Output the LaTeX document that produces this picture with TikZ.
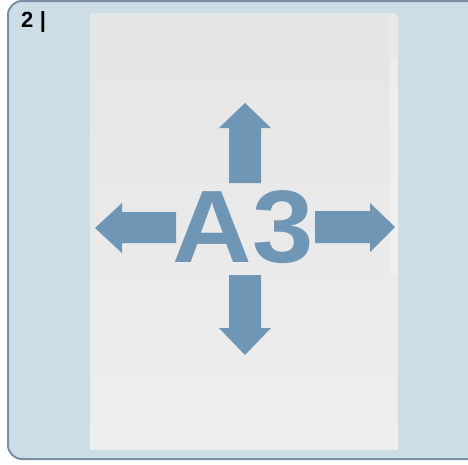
\documentclass[tikz,border=0pt]{standalone}
\usepackage{fontspec}
\setmainfont{Liberation Sans}
\definecolor{panelfill}{HTML}{CCDDE6}
\definecolor{panelline}{HTML}{7890A3}
\definecolor{arrowblue}{HTML}{7096B5}
\definecolor{sheettop}{HTML}{E5E5E5}
\definecolor{sheetbot}{HTML}{EEEEEE}
\tikzset{
  panelbox/.style={draw=panelline, line width=2pt, fill=panelfill, rounded corners=14pt},
  bigarrow/.style={fill=arrowblue, draw=none},
}
\begin{document}
\begin{tikzpicture}[x=1pt,y=-1pt]
\useasboundingbox (0,0) rectangle (468,464);
\fill[white] (0,0) rectangle (468,464);
\begin{scope}
\clip (0,0) rectangle (468,464);
\draw[panelbox] (8,1) rectangle (490,459);
\end{scope}
% label
\node[anchor=base west, font=\bfseries\fontsize{22}{22}\selectfont, inner sep=0pt] (lbl) at (21,27) {2\hspace{6.5pt}|};
% sheet
\begin{scope}
\clip[rounded corners=6pt] (80,13) rectangle (398,462);
\shade[top color=sheettop, bottom color=sheetbot] (90,13) rectangle (398,449);
\fill[white, opacity=0.3] (390,58) rectangle (398,275);
\fill[white, opacity=0.15] (388,13) rectangle (398,58);
\end{scope}
% arrows
\fill[bigarrow] (245,103) -- (271,128) -- (261,128) -- (261,183) -- (229,183) -- (229,128) -- (219,128) -- cycle;
\fill[bigarrow] (245,355) -- (271,328) -- (261,328) -- (261,275) -- (229,275) -- (229,328) -- (219,328) -- cycle;
\fill[bigarrow] (95,228) -- (122,203) -- (122,212) -- (176,212) -- (176,243) -- (122,243) -- (122,253) -- cycle;
\fill[bigarrow] (395,227) -- (370,203) -- (370,211) -- (315,211) -- (315,243) -- (370,243) -- (370,252) -- cycle;
% A3
\node[anchor=base, inner sep=0pt, text=arrowblue, font=\bfseries\fontsize{103}{103}\selectfont] (a3) at (243,262) {\scalebox{1.07}[1]{A3}};
\end{tikzpicture}
\end{document}
